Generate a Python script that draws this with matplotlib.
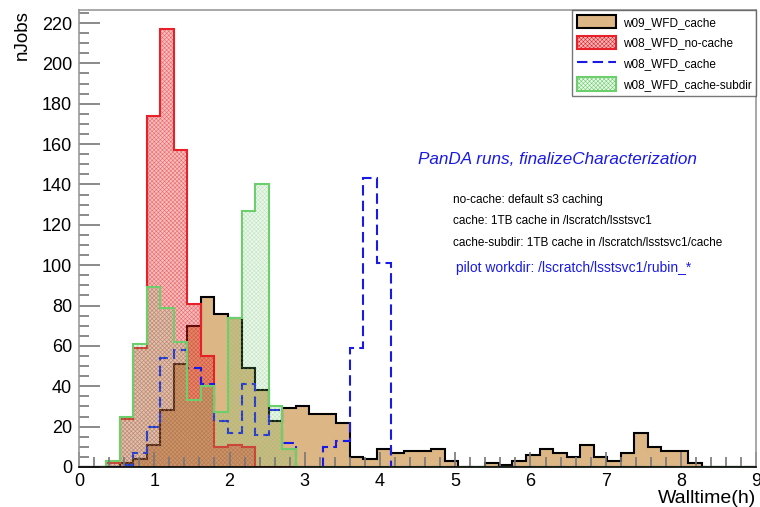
import numpy as np
import matplotlib.pyplot as plt
import matplotlib.patches as mpatches
from matplotlib.lines import Line2D
from matplotlib.ticker import MultipleLocator

plt.rcParams['font.family'] = ['Liberation Sans', 'DejaVu Sans']
plt.rcParams['hatch.linewidth'] = 0.4

# 50 bins from 0 to 9 h
nbins, xmin, xmax = 50, 0.0, 9.0
edges = np.linspace(xmin, xmax, nbins + 1)

w09_cache = [0, 0, 0, 2, 4, 11, 28, 51, 70, 84,
             76, 74, 49, 38, 23, 29, 30, 26, 26, 22,
             5, 4, 9, 7, 8, 8, 9, 3, 0, 0,
             2, 1, 3, 6, 9, 7, 5, 11, 5, 3,
             7, 17, 10, 8, 8, 2, 0, 0, 0, 0]
w08_nocache = [0, 0, 2, 24, 59, 174, 217, 157, 81, 55,
               10, 11, 10] + [0] * 37
w08_cache = [0, 0, 0, 1, 7, 20, 54, 58, 49, 41,
             23, 17, 41, 16, 28, 12, 0, 0, 10, 13,
             59, 143, 101] + [0] * 27
w08_subdir = [0, 0, 3, 25, 61, 89, 79, 62, 33, 40,
              27, 74, 127, 140, 30, 9] + [0] * 34

labels = ['w09_WFD_cache', 'w08_WFD_no-cache', 'w08_WFD_cache', 'w08_WFD_cache-subdir']

tan = '#dcb685'
red = '#e8202a'
blue = '#1a1ae6'
green = '#6ccf6c'
red_fill = (0.90, 0.15, 0.15, 0.30)
red_hatch = (0.85, 0.10, 0.12, 0.50)
green_fill = (0.45, 0.80, 0.45, 0.14)
green_hatch = (0.40, 0.75, 0.40, 0.30)

fig = plt.figure(figsize=(7.6, 5.07), dpi=100)
ax = fig.add_axes([0.104, 0.079, 0.891, 0.901])

# w09 cache: tan fill, black outline
ax.stairs(w09_cache, edges, fill=True, facecolor=tan, edgecolor='none')
ax.stairs(w09_cache, edges, color='black', linewidth=1.5)

# w08 no-cache: red checkered fill
ax.stairs(w08_nocache, edges, fill=True, facecolor=red_fill, edgecolor=red_hatch,
          hatch='xxxxxxxx', linewidth=0)
ax.stairs(w08_nocache, edges, color=red, linewidth=1.5)

# w08 cache: blue dashed
ax.stairs(w08_cache, edges, color=blue, linewidth=1.5, linestyle=(0, (5, 2.5)))

# w08 cache-subdir: light green fill
ax.stairs(w08_subdir, edges, fill=True, facecolor=green_fill, edgecolor=green_hatch,
          hatch='xxxxxxxx', linewidth=0)
ax.stairs(w08_subdir, edges, color=green, linewidth=1.5)

ax.set_xlim(xmin, xmax)
ax.set_ylim(0, 226.4)
ax.xaxis.set_major_locator(MultipleLocator(1))
ax.xaxis.set_minor_locator(MultipleLocator(0.2))
ax.yaxis.set_major_locator(MultipleLocator(20))
ax.yaxis.set_minor_locator(MultipleLocator(5))

ax.tick_params(axis='both', which='both', direction='in', colors='#777777',
               labelcolor='black', labelsize=13, width=1.2)
ax.tick_params(axis='y', which='major', length=15, pad=5)
ax.tick_params(axis='y', which='minor', length=7.5)
ax.tick_params(axis='x', which='major', length=11, pad=4)
ax.tick_params(axis='x', which='minor', length=7)
ax.tick_params(top=False, right=False)
for s in ax.spines.values():
    s.set_color('#999999')
    s.set_linewidth(1.2)
ax.spines['bottom'].set_color('black')

ax.set_ylabel('nJobs', fontsize=13.5, loc='top')
ax.yaxis.set_label_coords(-0.071, 1.0)
ax.set_xlabel('Walltime(h)', fontsize=14, loc='right')
ax.xaxis.set_label_coords(1.0, -0.05)

# legend
handles = [
    mpatches.Patch(facecolor=tan, edgecolor='black', linewidth=1.5),
    mpatches.Patch(facecolor=red_fill, edgecolor=red, hatch='xxxxxxxx', linewidth=1.5),
    Line2D([], [], color=blue, linewidth=1.5, linestyle=(0, (5, 2.5))),
    mpatches.Patch(facecolor=green_fill, edgecolor=green, hatch='xxxxxxxx', linewidth=1.5),
]
leg = ax.legend(handles, labels, loc='upper right', bbox_to_anchor=(1.0, 1.0),
                borderaxespad=0, fontsize=8.5, frameon=True, fancybox=False,
                handlelength=3.3, handleheight=1.4, handletextpad=0.6,
                labelspacing=0.6, borderpad=0.4)
leg.get_frame().set_edgecolor('#555555')
leg.get_frame().set_linewidth(1.0)

ax.text(0.501, 0.672, 'PanDA runs, finalizeCharacterization', transform=ax.transAxes,
        color=blue, fontsize=12.3, style='italic', va='center')
ax.text(0.552, 0.584, 'no-cache: default s3 caching', transform=ax.transAxes,
        fontsize=8.5, va='center')
ax.text(0.552, 0.538, 'cache: 1TB cache in /lscratch/lsstsvc1', transform=ax.transAxes,
        fontsize=8.5, va='center')
ax.text(0.552, 0.490, 'cache-subdir: 1TB cache in /lscratch/lsstsvc1/cache',
        transform=ax.transAxes, fontsize=8.5, va='center')
ax.text(0.557, 0.435, 'pilot workdir: /lscratch/lsstsvc1/rubin_*', transform=ax.transAxes,
        color=blue, fontsize=10, va='center')

fig.savefig('out.png', dpi=100)
